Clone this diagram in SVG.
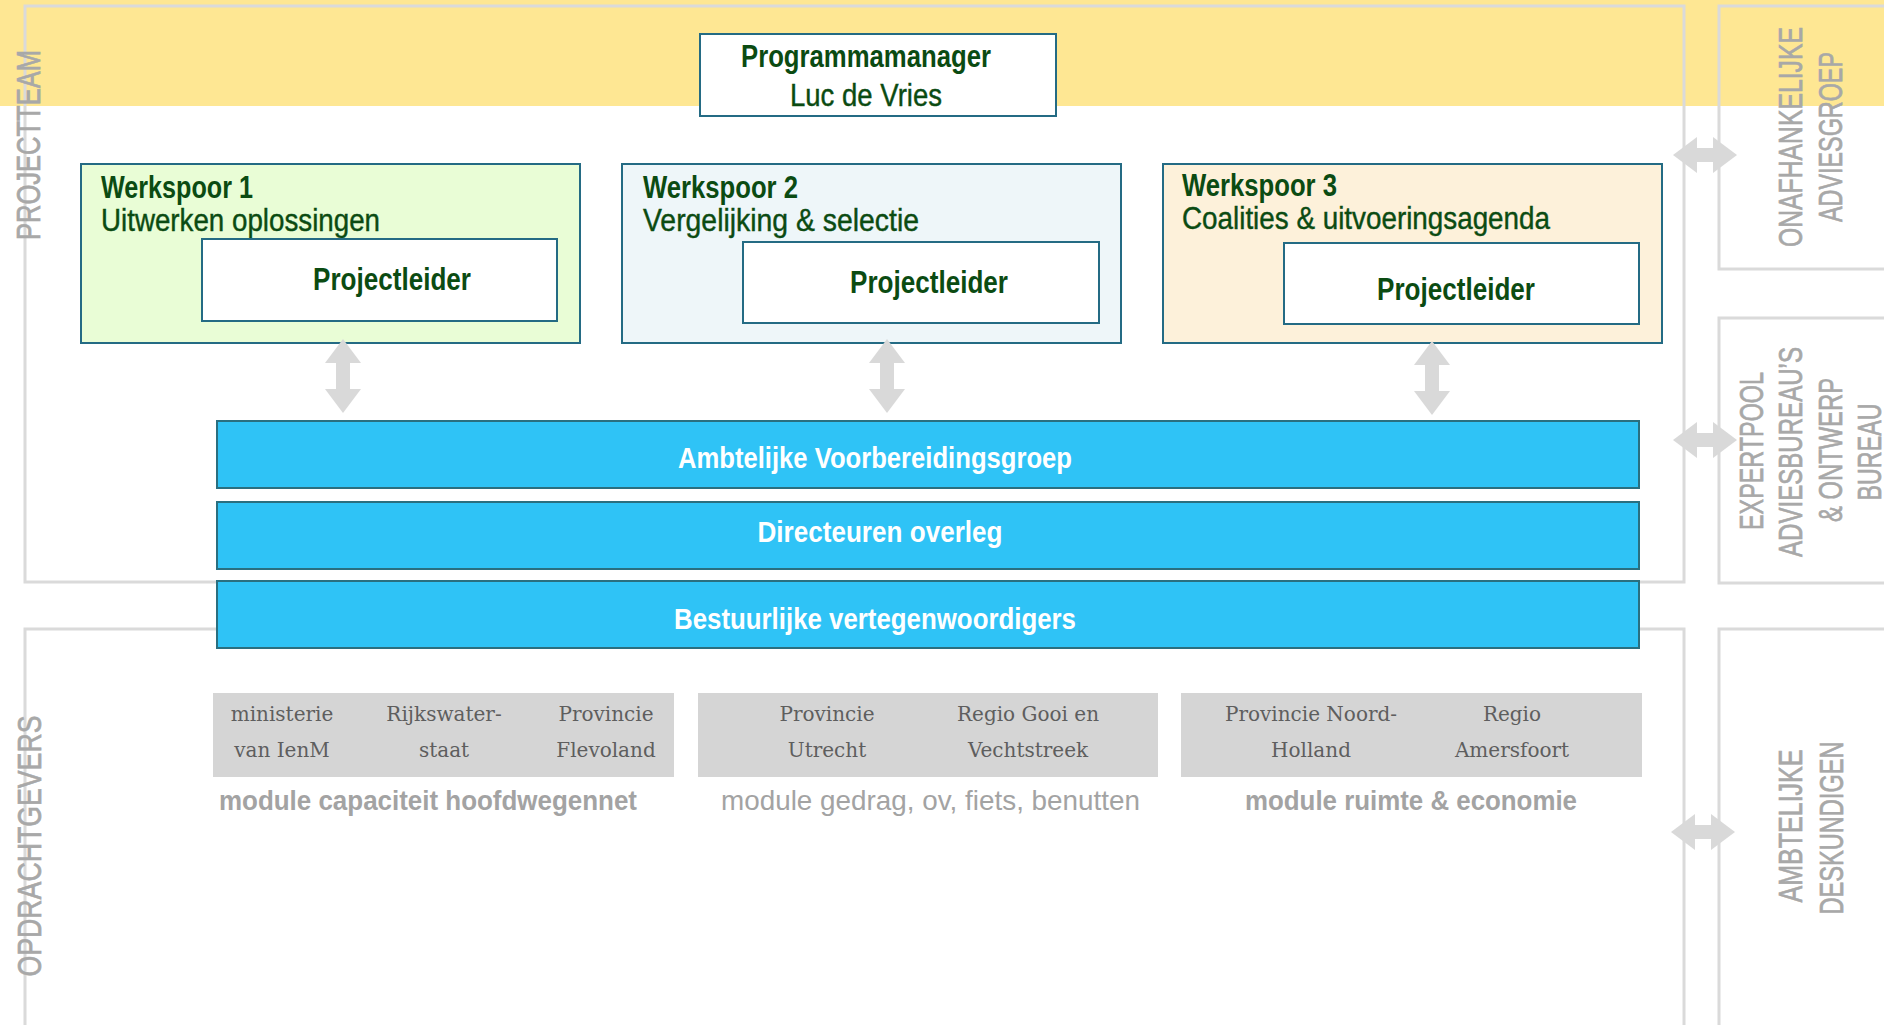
<svg xmlns="http://www.w3.org/2000/svg" width="1884" height="1025" viewBox="0 0 1884 1025">
<style>
.frame{fill:none;stroke:#dadada;stroke-width:3}
.ws{stroke:#246b84;stroke-width:2}
.inner{fill:#ffffff;stroke:#246b84;stroke-width:2}
.bar{fill:#2fc3f6;stroke:#2a6f80;stroke-width:2}
.n{font-family:"Liberation Sans Narrow","Liberation Sans","DejaVu Sans Condensed",sans-serif;font-stretch:condensed}
.t{font-size:31px;font-weight:bold;fill:#0b4b12}
.s{font-size:31px;font-weight:normal;fill:#0b4b12;stroke:#0b4b12;stroke-width:0.4}
.w{font-size:30px;font-weight:bold;fill:#ffffff}
.side{font-size:34px;fill:#a8a8a8;stroke:#a8a8a8;stroke-width:0.7}
.mod{fill:#d5d5d5}
.org{font-family:"DejaVu Serif","Liberation Serif",serif;font-size:20px;fill:#5e5e5e}
.lab{font-family:"Liberation Sans","DejaVu Sans",sans-serif;font-size:28px;fill:#a3a3a3}
.arrow{fill:#d9d9d9}
</style>
<rect x="0" y="0" width="1884" height="106" fill="#fee793"/>
<g id="frames">
<rect class="frame" x="25" y="6" width="1659" height="576"/>
<rect class="frame" x="25" y="629" width="1659" height="430"/>
<rect class="frame" x="1719" y="6" width="200" height="263"/>
<rect class="frame" x="1719" y="318" width="200" height="265"/>
<rect class="frame" x="1719" y="629" width="200" height="430"/>
</g>
<g id="label-projectteam"><text class="n side" transform="translate(40,145) rotate(-90)" text-anchor="middle" textLength="190" lengthAdjust="spacingAndGlyphs">PROJECTTEAM</text></g>
<g id="label-opdrachtgevers"><text class="n side" transform="translate(41,846) rotate(-90)" text-anchor="middle" textLength="261" lengthAdjust="spacingAndGlyphs">OPDRACHTGEVERS</text></g>
<g id="onafhankelijke-adviesgroep">
<text class="n side" transform="translate(1802,137) rotate(-90)" text-anchor="middle" textLength="220" lengthAdjust="spacingAndGlyphs">ONAFHANKELIJKE</text>
<text class="n side" transform="translate(1842,137) rotate(-90)" text-anchor="middle" textLength="170" lengthAdjust="spacingAndGlyphs">ADVIESGROEP</text>
</g>
<g id="expertpool">
<text class="n side" transform="translate(1763,451) rotate(-90)" text-anchor="middle" textLength="158" lengthAdjust="spacingAndGlyphs">EXPERTPOOL</text>
<text class="n side" transform="translate(1802,452) rotate(-90)" text-anchor="middle" textLength="210" lengthAdjust="spacingAndGlyphs">ADVIESBUREAU’S</text>
<text class="n side" transform="translate(1842,450) rotate(-90)" text-anchor="middle" textLength="144" lengthAdjust="spacingAndGlyphs">&amp; ONTWERP</text>
<text class="n side" transform="translate(1881,452) rotate(-90)" text-anchor="middle" textLength="97" lengthAdjust="spacingAndGlyphs">BUREAU</text>
</g>
<g id="ambtelijke-deskundigen">
<text class="n side" transform="translate(1802,826) rotate(-90)" text-anchor="middle" textLength="153" lengthAdjust="spacingAndGlyphs">AMBTELIJKE</text>
<text class="n side" transform="translate(1843,828) rotate(-90)" text-anchor="middle" textLength="173" lengthAdjust="spacingAndGlyphs">DESKUNDIGEN</text>
</g>
<g id="programmamanager">
<rect class="inner" x="700" y="34" width="356" height="82"/>
<text class="n t" x="866" y="67" text-anchor="middle" textLength="250" lengthAdjust="spacingAndGlyphs">Programmamanager</text>
<text class="n s" x="866" y="106" text-anchor="middle" textLength="152" lengthAdjust="spacingAndGlyphs">Luc de Vries</text>
</g>
<g id="werkspoor-1">
<rect class="ws" x="81" y="164" width="499" height="179" fill="#e9fdd6"/>
<text class="n t" x="101" y="198" textLength="152" lengthAdjust="spacingAndGlyphs">Werkspoor 1</text>
<text class="n s" x="101" y="231" textLength="279" lengthAdjust="spacingAndGlyphs">Uitwerken oplossingen</text>
<rect class="inner" x="202" y="239" width="355" height="82"/>
<text class="n t" x="392" y="290" text-anchor="middle" textLength="158" lengthAdjust="spacingAndGlyphs">Projectleider</text>
</g>
<g id="werkspoor-2">
<rect class="ws" x="622" y="164" width="499" height="179" fill="#eef6f9"/>
<text class="n t" x="643" y="198" textLength="155" lengthAdjust="spacingAndGlyphs">Werkspoor 2</text>
<text class="n s" x="643" y="231" textLength="276" lengthAdjust="spacingAndGlyphs">Vergelijking &amp; selectie</text>
<rect class="inner" x="743" y="242" width="356" height="81"/>
<text class="n t" x="929" y="293" text-anchor="middle" textLength="158" lengthAdjust="spacingAndGlyphs">Projectleider</text>
</g>
<g id="werkspoor-3">
<rect class="ws" x="1163" y="164" width="499" height="179" fill="#fdf1da"/>
<text class="n t" x="1182" y="196" textLength="155" lengthAdjust="spacingAndGlyphs">Werkspoor 3</text>
<text class="n s" x="1182" y="229" textLength="368" lengthAdjust="spacingAndGlyphs">Coalities &amp; uitvoeringsagenda</text>
<rect class="inner" x="1284" y="243" width="355" height="81"/>
<text class="n t" x="1456" y="300" text-anchor="middle" textLength="158" lengthAdjust="spacingAndGlyphs">Projectleider</text>
</g>
<g id="ambtelijke-voorbereidingsgroep">
<rect class="bar" x="217" y="421" width="1422" height="67"/>
<text class="n w" x="875" y="468" text-anchor="middle" textLength="394" lengthAdjust="spacingAndGlyphs">Ambtelijke Voorbereidingsgroep</text>
</g>
<g id="directeuren-overleg">
<rect class="bar" x="217" y="502" width="1422" height="67"/>
<text class="n w" x="880" y="542" text-anchor="middle" textLength="245" lengthAdjust="spacingAndGlyphs">Directeuren overleg</text>
</g>
<g id="bestuurlijke-vertegenwoordigers">
<rect class="bar" x="217" y="581" width="1422" height="67"/>
<text class="n w" x="875" y="629" text-anchor="middle" textLength="402" lengthAdjust="spacingAndGlyphs">Bestuurlijke vertegenwoordigers</text>
</g>
<g id="module-capaciteit">
<rect class="mod" x="213" y="693" width="461" height="84"/>
<text class="org" x="282" y="721" text-anchor="middle">ministerie</text>
<text class="org" x="282" y="757" text-anchor="middle">van IenM</text>
<text class="org" x="444" y="721" text-anchor="middle">Rijkswater-</text>
<text class="org" x="444" y="757" text-anchor="middle">staat</text>
<text class="org" x="606" y="721" text-anchor="middle">Provincie</text>
<text class="org" x="606" y="757" text-anchor="middle">Flevoland</text>
<text class="lab" x="219" y="810" font-weight="bold" textLength="418" lengthAdjust="spacingAndGlyphs">module capaciteit hoofdwegennet</text>
</g>
<g id="module-gedrag">
<rect class="mod" x="698" y="693" width="460" height="84"/>
<text class="org" x="827" y="721" text-anchor="middle">Provincie</text>
<text class="org" x="827" y="757" text-anchor="middle">Utrecht</text>
<text class="org" x="1028" y="721" text-anchor="middle">Regio Gooi en</text>
<text class="org" x="1028" y="757" text-anchor="middle">Vechtstreek</text>
<text class="lab" x="721" y="810" fill="#b3b3b3" textLength="419" lengthAdjust="spacingAndGlyphs">module gedrag, ov, fiets, benutten</text>
</g>
<g id="module-ruimte">
<rect class="mod" x="1181" y="693" width="461" height="84"/>
<text class="org" x="1311" y="721" text-anchor="middle">Provincie Noord-</text>
<text class="org" x="1311" y="757" text-anchor="middle">Holland</text>
<text class="org" x="1512" y="721" text-anchor="middle">Regio</text>
<text class="org" x="1512" y="757" text-anchor="middle">Amersfoort</text>
<text class="lab" x="1245" y="810" font-weight="bold" textLength="332" lengthAdjust="spacingAndGlyphs">module ruimte &amp; economie</text>
</g>
<g id="connectors">
<polygon class="arrow" points="343,339 361,363 350,363 350,389 361,389 343,413 325,389 336,389 336,363 325,363"/>
<polygon class="arrow" points="887,339 905,363 894,363 894,389 905,389 887,413 869,389 880,389 880,363 869,363"/>
<polygon class="arrow" points="1432,341 1450,365 1439,365 1439,391 1450,391 1432,415 1414,391 1425,391 1425,365 1414,365"/>
<polygon class="arrow" points="1673,155 1697,137 1697,148 1713,148 1713,137 1737,155 1713,173 1713,162 1697,162 1697,173"/>
<polygon class="arrow" points="1673,440 1697,422 1697,433 1713,433 1713,422 1737,440 1713,458 1713,447 1697,447 1697,458"/>
<polygon class="arrow" points="1671,832 1695,814 1695,825 1711,825 1711,814 1735,832 1711,850 1711,839 1695,839 1695,850"/>
</g>
</svg>
